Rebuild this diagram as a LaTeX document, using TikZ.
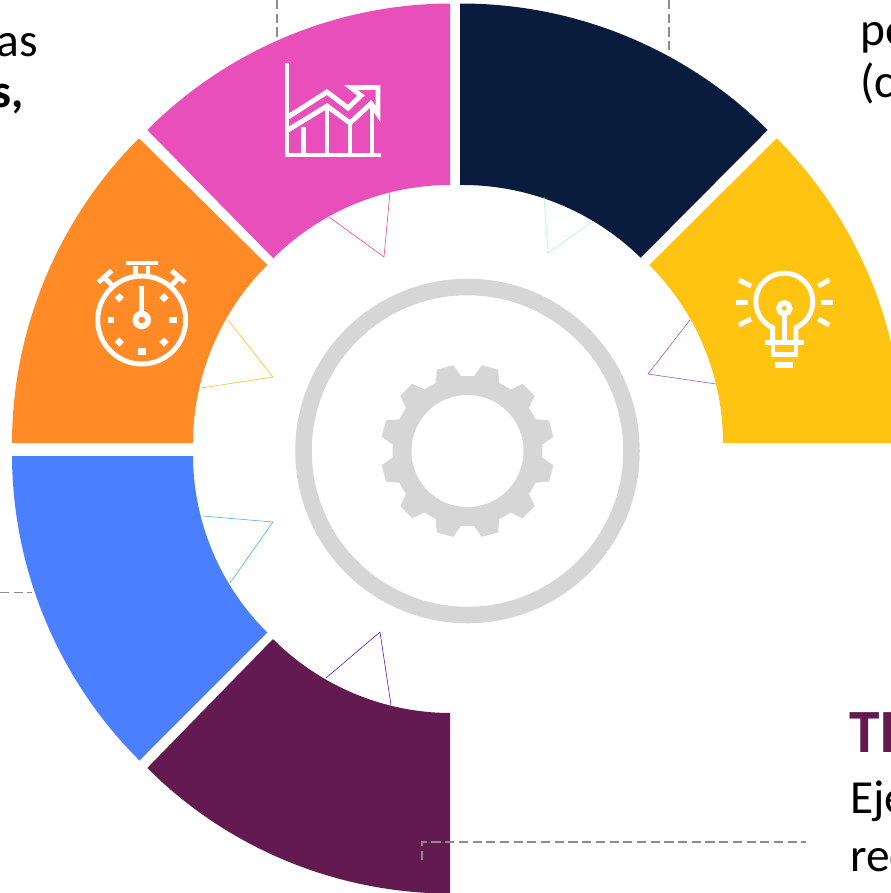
\documentclass[tikz,border=0pt]{standalone}
\usepackage{fontspec}
\setmainfont{Carlito}
\definecolor{segorange}{HTML}{FF8A26}
\definecolor{segpink}{HTML}{E84FBA}
\definecolor{segnavy}{HTML}{0A1C3E}
\definecolor{segyellow}{HTML}{FFC412}
\definecolor{segblue}{HTML}{4A80FF}
\definecolor{segpurple}{HTML}{631A50}
\definecolor{geargrey}{HTML}{D6D6D6}
\definecolor{leadgrey}{HTML}{8C8C8C}
\tikzset{
  leader/.style={draw=leadgrey, line width=0.6pt, dash pattern=on 5.2pt off 2.6pt},
  notch/.style={line width=0.3pt},
  icon/.style={draw=white, line width=2.8pt, fill=none, miter limit=6},
  lbl/.style={inner sep=0pt, font=\fontsize{27}{32}\selectfont},
  arcout/.style={bend left=22.5, looseness=0.885},
  arcin/.style={bend right=22.5, looseness=0.885},
}

\begin{document}
\begin{tikzpicture}[x=0.02cm, y=-0.02cm]
    \useasboundingbox (0, 0) rectangle (891, 893);

    \coordinate (leadA) at (277, 0);
    \coordinate (leadAend) at (277, 45);
    \coordinate (leadB) at (669, 0);
    \coordinate (leadBend) at (669, 54);
    \coordinate (leadC) at (0, 592.5);
    \coordinate (leadCend) at (32, 592.5);
    \draw [leader] (leadA) -- (leadAend);
    \draw [leader] (leadB) -- (leadBend);
    \draw [leader] (leadC) -- (leadCend);

    \fill [segblue] (139.5, 760.5) to [arcout] (12, 456) -- (193, 456) to [arcin] (267.3, 632.5) -- cycle;
    \fill [segorange] (12, 443) to [arcout] (139, 138.3) -- (267.3, 265) to [arcin] (193, 443) -- cycle;
    \fill [segpink] (147.3, 130) to [arcout] (450, 3.5) -- (450, 185) to [arcin] (273.3, 258.3) -- cycle;
    \fill [segnavy] (460, 3.5) to [arcout] (767.7, 130) -- (640.7, 257.7) to [arcin] (460, 185) -- cycle;
    \fill [segyellow] (776.7, 138.3) to [arcout] (903, 443) -- (723, 443) to [arcin] (649.3, 265) -- cycle;
    \fill [segpurple] (450, 893.5) to [arcout] (147.3, 768) -- (273, 639) to [arcin] (450, 713) -- cycle;

    \draw [notch, segpink!70!red] (329, 217) -- (384, 257) -- (390, 192);
    \draw [notch, green!60!cyan!40!white] (544, 197) -- (548, 253) -- (592, 222);
    \draw [notch, blue!50!purple!70!white] (690, 320) -- (648, 374) -- (716, 384);
    \draw [notch, segyellow!80!orange] (228, 320) -- (273, 377) -- (201, 388);
    \draw [notch, segblue!70!cyan] (203, 516) -- (273, 522) -- (230, 583);
    \draw [notch, blue!60!purple] (326, 678) -- (380, 632) -- (391, 705);

    % hub
    \draw [geargrey, line width=9.4pt] (467.5, 451) circle (164);
    \begin{scope}[shift={(467.5, 451)}]
      \fill [geargrey] (0, 0) circle (75);
      \foreach \a in {0, 30, ..., 330} {
        \fill [geargrey] ({\a+4.5}:74) -- ({\a+9.4}:87) -- ({\a+20.6}:87) -- ({\a+25.5}:74) -- cycle;
      }
      \fill [white] (0, 0) circle (56);
    \end{scope}

    % chart
    \draw [icon] (287, 63) -- (287, 155) -- (381, 155);
    \draw [icon] (288, 117) -- (327, 92) -- (348, 108) -- (361, 95.5) -- (351, 87.5) -- (378, 87.5) -- (378, 114)
      -- (371, 103.5) -- (350, 123) -- (327, 106) -- (288, 130);
    \draw [icon] (303.5, 127) -- (303.5, 153);
    \draw [icon] (327, 108) -- (327, 153);
    \draw [icon] (350, 125) -- (350, 153);
    \draw [icon] (372, 105) -- (372, 153);

    % stopwatch
    \draw [icon] (141.7, 320) circle (44);
    \draw [icon] (126, 263) -- (157.5, 263);
    \draw [icon] (135.5, 266) -- (135.5, 275);
    \draw [icon] (148, 266) -- (148, 275);
    \draw [icon] (98.3, 282.3) -- (111.7, 270.7);
    \draw [icon] (105, 278) -- (113.3, 286.7);
    \draw [icon] (185.1, 282.3) -- (171.7, 270.7);
    \draw [icon] (178.4, 278) -- (170, 286.7);
    \draw [icon] (141.7, 286) -- (141.7, 312);
    \draw [icon, line width=3.3pt] (141.7, 320) circle (6.3);
    \foreach \x/\y in {119.3/297.7, 164/297.7, 119.3/342, 164/342} {
      \fill [white] (\x-4.7, \y) -- (\x, \y-4.7) -- (\x+4.7, \y) -- (\x, \y+4.7) -- cycle;
    }
    \fill [white] (107.7, 316.7) rectangle (114, 322.7);
    \fill [white] (169.3, 316.7) rectangle (177, 322.7);
    \fill [white] (138, 347.7) rectangle (145.7, 355);

    % bulb
    \draw [icon] (772.7, 341) -- (772.7, 327.7) arc [start angle=114, end angle=426, radius=28.5] -- (796, 341);
    \draw [icon] (765, 342.5) -- (804, 342.5);
    \draw [icon] (773, 345) -- (773, 354.5) -- (796, 354.5) -- (796, 345);
    \draw [icon, line width=3.4pt] (775, 365) -- (793.3, 365);
    \draw [icon, line width=3.1pt] (784.3, 308.3) circle (5.5);
    \draw [icon] (784.3, 316) -- (784.3, 340);
    \foreach \xa/\ya/\xb/\yb in {736/302.5/747.7/302.5, 821/302.5/832.7/302.5, 739/280/751/286,
      739/325/751/319, 829.3/280/818.3/286, 829.3/325/818.3/319} {
      \draw [icon] (\xa, \ya) -- (\xb, \yb);
    }

    \coordinate (leadD) at (422, 860);
    \coordinate (leadDmid) at (422, 842);
    \coordinate (leadDend) at (806, 842);
    \draw [leader] (leadD) -- (leadDmid) -- (leadDend);

    \node [lbl, anchor=base east] (textas) at (38.5, 56) {as};
    \node [lbl, anchor=base east] (texts) at (24.5, 107) {\textbf{s,}};
    \node [lbl, anchor=base west] (textpo) at (860, 45) {po};
    \node [lbl, anchor=base west] (textc) at (860, 97) {(c};
    \node [lbl, anchor=base west, font=\fontsize{35}{42}\selectfont\bfseries, text=segpurple] (texttitle) at (849, 752) {TI};
    \node [lbl, anchor=base west] (texteje) at (850, 813) {Eje};
    \node [lbl, anchor=base west] (textrec) at (850, 871.5) {rec};
  \end{tikzpicture}
\end{document}
